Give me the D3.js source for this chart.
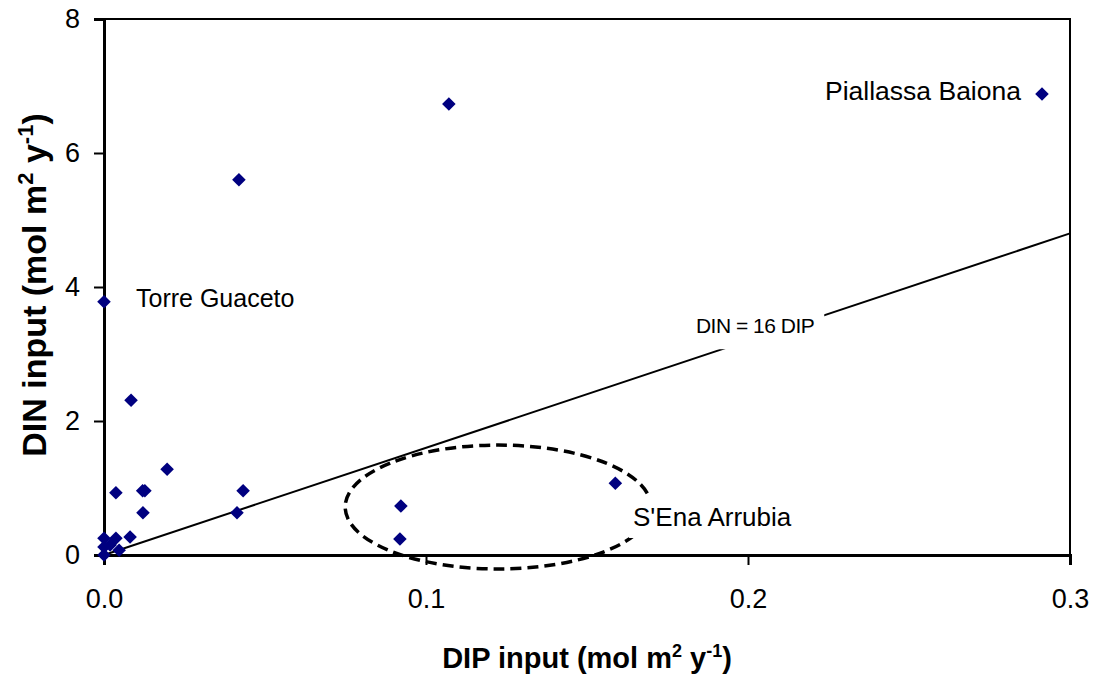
<!DOCTYPE html>
<html><head><meta charset="utf-8">
<script src="https://cdn.jsdelivr.net/npm/d3@7"></script>
<style>
body{margin:0;background:#fff;}
svg{display:block;font-family:Arial,"Liberation Sans",sans-serif;}
</style></head>
<body><svg id="c" width="1096" height="686"></svg>
<script>
// DIP input (mol m-2 y-1)
const dipValues = [0.2913,0.1071,0.0419,0.0,0.0084,0.0196,0.0120,0.0127,0.0037,0.0121,0.0432,0.0413,0.1588,0.0922,0.0919,0.0081,0.0,0.0037,0.0,0.0047,0.0,0.0019];
// DIN input (mol m-2 y-1)
const dinValues = [6.88,6.73,5.60,3.78,2.31,1.28,0.96,0.96,0.93,0.63,0.96,0.63,1.07,0.73,0.24,0.27,0.25,0.25,0.12,0.07,0.0,0.15];
const xTicks = [0,0.1,0.2,0.3];
const yTicks = [0,2,4,6,8];
const redfieldRatio = 16;
const siteNames = ["Piallassa Baiona","Torre Guaceto","S'Ena Arrubia"];

const svg = d3.select("#c");
const L=104,R=1070,T=19,B=555;
const x = d3.scaleLinear().domain([0,0.3]).range([L,R]);
const y = d3.scaleLinear().domain([0,8]).range([B,T]);

// frame
svg.append("rect").attr("x",L).attr("y",T).attr("width",R-L).attr("height",B-T)
  .attr("fill","none").attr("stroke","#000").attr("stroke-width",2);

// axes
const fs = 27;
const gx = svg.append("g").attr("transform",`translate(0,${B})`)
  .call(d3.axisBottom(x).tickValues(xTicks).tickFormat(d3.format(".1f")).tickSize(10).tickPadding(24));
const gy = svg.append("g").attr("transform",`translate(${L},0)`)
  .call(d3.axisLeft(y).tickValues(yTicks).tickFormat(d3.format("d")).tickSize(10).tickPadding(14));
[gx,gy].forEach(g=>{
  g.select(".domain").attr("stroke","#000").attr("stroke-width",3);
  g.selectAll(".tick line").attr("stroke","#000").attr("stroke-width",2);
  g.selectAll(".tick text").attr("font-size",fs).attr("fill","#000").attr("font-family","Arial, Liberation Sans");
});

// DIN = 16 DIP line
const lineData = [0,0.3].map(v=>[v,v*redfieldRatio]);
svg.append("path").attr("d",d3.line().x(d=>x(d[0])).y(d=>y(d[1]))(lineData))
  .attr("stroke","#000").attr("stroke-width",2).attr("fill","none");

// ellipse annotation (S'Ena Arrubia group)
const ellC=[0.1224,0.716], ellR=[0.0475,0.925];
svg.append("ellipse").attr("cx",x(ellC[0])).attr("cy",y(ellC[1]))
  .attr("rx",x(ellR[0])-x(0)).attr("ry",y(0)-y(ellR[1]))
  .attr("fill","none").attr("stroke","#000").attr("stroke-width",3.5)
  .attr("stroke-dasharray","11,6");

// labels with white background
function label(txt, px, py, anchor, size, bg, ls){
  const t = svg.append("text").attr("x",px).attr("y",py).attr("text-anchor",anchor)
    .attr("font-size",size).attr("fill","#000").text(txt);
  if(ls) t.attr("letter-spacing",ls);
  if(bg){
    const b=t.node().getBBox();
    svg.insert("rect",()=>t.node()).attr("x",b.x-bg[0]).attr("y",b.y-bg[1]).attr("width",b.width+2*bg[0]).attr("height",b.height+2*bg[1]).attr("fill","#fff");
  }
  return t;
}
label("DIN = 16 DIP", x(0.2022), y(3.31), "middle", 21, [10,12], "-0.5");
label(siteNames[2], x(0.1643), y(0.433), "start", 26, [4,6]);

// data points
const pts = dipValues.map((d,i)=>({dip:d,din:dinValues[i]}));
const sym = d3.symbol(d3.symbolSquare,92);
svg.append("g").selectAll("path").data(pts).join("path")
  .attr("d",sym).attr("fill","#000080")
  .attr("transform",d=>`translate(${x(d.dip)},${y(d.din)}) rotate(45)`);

label(siteNames[0], x(pts[0].dip)-21, y(pts[0].din)+6, "end", 26.5);
label(siteNames[1], x(pts[3].dip)+32, y(pts[3].din)+5, "start", 25);

// axis titles
const xt = svg.append("text").attr("x",(442+732)/2).attr("y",668).attr("text-anchor","middle")
  .attr("font-size",29).attr("font-weight","bold").attr("fill","#000");
xt.append("tspan").text("DIP input (mol m");
xt.append("tspan").text("2").attr("font-size",18).attr("dy",-11);
xt.append("tspan").text(" y").attr("dy",11);
xt.append("tspan").text("-1").attr("font-size",18).attr("dy",-11);
xt.append("tspan").text(")").attr("dy",11);

const yt = svg.append("text").attr("transform","translate(46,285) rotate(-90)").attr("text-anchor","middle")
  .attr("font-size",34).attr("font-weight","bold").attr("fill","#000");
yt.append("tspan").text("DIN input (mol m");
yt.append("tspan").text("2").attr("font-size",22).attr("dy",-13);
yt.append("tspan").text(" y").attr("dy",13);
yt.append("tspan").text("-1").attr("font-size",22).attr("dy",-13);
yt.append("tspan").text(")").attr("dy",13);
</script></body></html>
